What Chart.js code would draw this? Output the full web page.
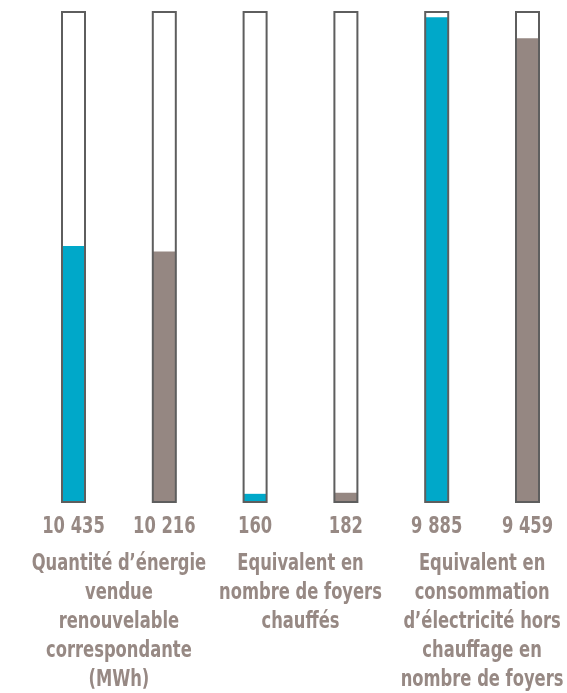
<!DOCTYPE html>
<html>
<head>
<meta charset="utf-8">
<script src="https://cdn.jsdelivr.net/npm/chart.js@4/dist/chart.umd.min.js"></script>
<style>
  html, body { margin: 0; padding: 0; background: #fff; }
  canvas { display: block; }
</style>
</head>
<body>
<canvas id="chart" width="567" height="693"></canvas>
<script>
// values
const valueLabels = ["10 435", "10 216", "160", "182", "9 885", "9 459"];
const energySold = [10435, 10216];      // MWh
const heatedHomes = [160, 182];         // foyers chauffés
const nonHeatingHomes = [9885, 9459];   // foyers hors chauffage
const groupLabels = [
    ["Quantité d’énergie", "vendue", "renouvelable", "correspondante", "(MWh)"],
    ["Equivalent en", "nombre de foyers", "chauffés"],
    ["Equivalent en", "consommation", "d’électricité hors", "chauffage en", "nombre de foyers"],
];

const TEAL = "#00a8c9";
const TAUPE = "#958782";
const TEXT = "#978984";
const FONT = "bold 23px 'DejaVu Sans Condensed', 'DejaVu Sans', sans-serif";
const SQUEEZE = 0.79; // no narrow face installed, so squeeze horizontally
const barWidth = 23;
const barColors = valueLabels.map((_, i) => (i % 2 === 0 ? TEAL : TAUPE));

function squeezedText(ctx, text, x, y) {
    ctx.save();
    ctx.translate(x, y);
    ctx.scale(SQUEEZE, 1);
    ctx.fillText(text, 0, 0);
    ctx.restore();
}

// white tubes behind the bars, outline on top, texts drawn by hand
const tubes = {
    id: "tubes",
    beforeDatasetsDraw(chart) {
        const { ctx, chartArea, scales } = chart;
        ctx.save();
        ctx.fillStyle = "#fff";
        valueLabels.forEach((_, i) => {
            const x = scales.x.getPixelForValue(i);
            ctx.fillRect(x - barWidth / 2, chartArea.top, barWidth, chartArea.bottom - chartArea.top);
        });
        ctx.restore();
    },
    afterDatasetsDraw(chart) {
        const { ctx, chartArea, scales } = chart;
        ctx.save();
        ctx.strokeStyle = "#5e5e5e";
        ctx.lineWidth = 2;
        valueLabels.forEach((_, i) => {
            const x = scales.x.getPixelForValue(i);
            ctx.strokeRect(x - barWidth / 2, chartArea.top, barWidth, chartArea.bottom - chartArea.top);
        });
        ctx.restore();
    },
    afterDraw(chart) {
        const { ctx, scales, chartArea } = chart;
        ctx.save();
        ctx.fillStyle = TEXT;
        ctx.font = FONT;
        ctx.textAlign = "center";
        ctx.textBaseline = "alphabetic";
        valueLabels.forEach((label, i) => {
            squeezedText(ctx, label, scales.x.getPixelForValue(i), chartArea.bottom + 31);
        });
        groupLabels.forEach((lines, g) => {
            const x = (scales.x.getPixelForValue(2 * g) + scales.x.getPixelForValue(2 * g + 1)) / 2;
            lines.forEach((line, k) => {
                squeezedText(ctx, line, x, chartArea.bottom + 68 + k * 29);
            });
        });
        ctx.restore();
    },
};

new Chart(document.getElementById("chart"), {
    type: "bar",
    data: {
        labels: valueLabels,
        datasets: [
            {
                data: [...energySold, null, null, null, null],
                yAxisID: "yEnergy",
                backgroundColor: barColors,
                barThickness: barWidth,
                clip: false,
            },
            {
                data: [null, null, ...heatedHomes, ...nonHeatingHomes],
                yAxisID: "yHomes",
                backgroundColor: barColors,
                barThickness: barWidth,
                clip: false,
            },
        ],
    },
    options: {
        responsive: false,
        animation: false,
        layout: { padding: { top: 12, left: 73.5, right: 39.5, bottom: 0 } },
        datasets: { bar: { grouped: false } },
        plugins: {
            legend: { display: false },
            tooltip: { enabled: false },
        },
        scales: {
            x: {
                offset: false,
                grid: { display: false, drawTicks: false },
                border: { display: false },
                ticks: { display: false },
                afterFit(scale) { scale.height = 191; },
            },
            yEnergy: { display: false, min: 0, max: 20000 },
            yHomes: { display: false, min: 0, max: 10000 },
        },
    },
    plugins: [tubes],
});
</script>
</body>
</html>
